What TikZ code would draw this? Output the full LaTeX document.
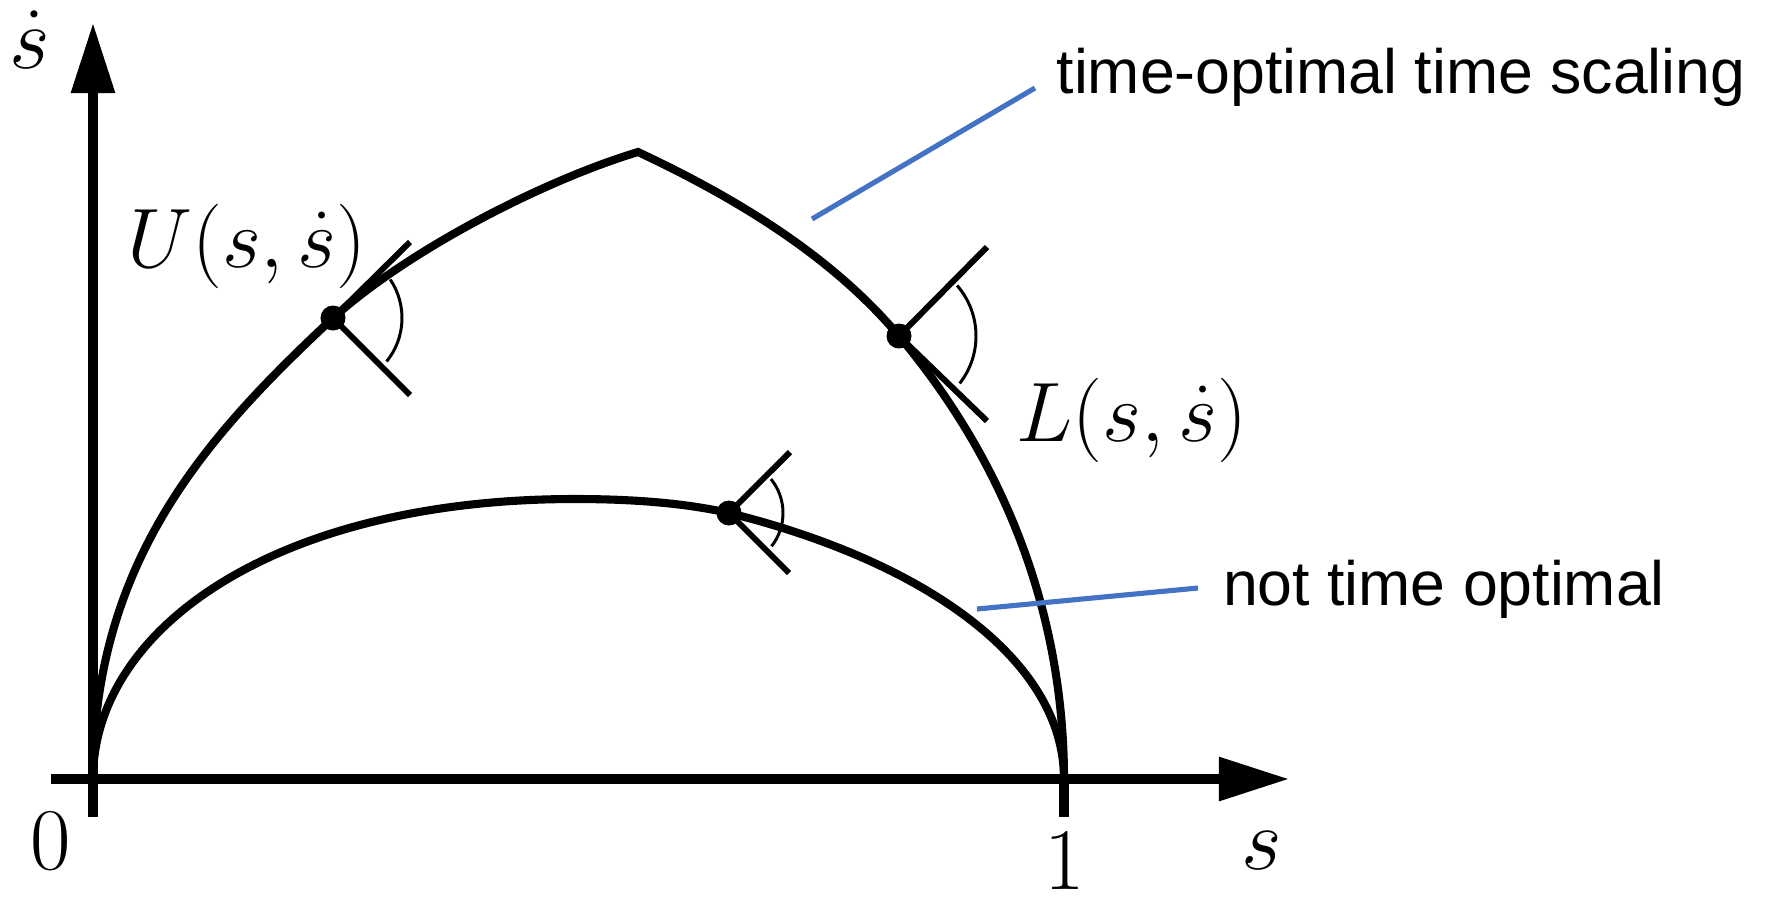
\RequirePackage{fix-cm}
\documentclass[tikz,border=0pt]{standalone}
\usepackage[no-math]{fontspec}
\newfontfamily\arialfont{Liberation Sans}
\usetikzlibrary{arrows.meta}
\definecolor{leaderblue}{HTML}{4472C4}
\tikzset{
  axisline/.style={line width=2.6pt, -{Triangle[length=0.7cm,width=0.42cm]}},
  tickline/.style={line width=2.6pt},
  curveline/.style={line width=2.3pt, line join=miter},
  coneline/.style={line width=1.7pt},
  anglearc/.style={line width=0.85pt},
  pointdot/.style={circle, fill=black, inner sep=0pt, minimum size=0.25cm},
  leader/.style={line width=1.45pt, draw=leaderblue},
  textlbl/.style={font=\arialfont\fontsize{17.8}{20}\selectfont, inner sep=0pt, anchor=base},
  mathlbl/.style={font=\fontsize{24}{28}\selectfont, inner sep=0pt, anchor=base},
  axislbl/.style={font=\fontsize{25}{29}\selectfont, inner sep=0pt, anchor=base},
}
\begin{document}
\begin{tikzpicture}[x=0.01cm, y=0.01cm]
\useasboundingbox (0,-896) rectangle (1769,0);

% axes
\coordinate (xstart) at (51,-779);
\coordinate (xend) at (1289,-779);
\coordinate (ybot) at (93,-817);
\coordinate (ytop) at (93,-23);
\coordinate (O) at (93,-779);
\coordinate (one) at (1064,-779);
\coordinate (onebot) at (1064,-817);
\coordinate (peak) at (638,-152);
\coordinate (ltop) at (575,-499);

% points
\node[pointdot] (U) at (333,-318) {};
\node[pointdot] (L) at (899,-336) {};
\node[pointdot] (N) at (729,-513) {};

% time-optimal curve
\draw[curveline] (O) .. controls (93,-559) and (209,-434) .. (U.center)
  .. controls (407,-251) and (542,-181) .. (peak)
  .. controls (734,-197) and (831,-255) .. (L.center)
  .. controls (1015,-474) and (1064,-629) .. (one);

% not time-optimal curve
\draw[curveline] (O) .. controls (93,-629) and (275,-499) .. (ltop)
  .. controls (625,-499) and (680,-502) .. (N.center)
  .. controls (923,-561) and (1064,-659) .. (one);

\draw[axisline] (xstart) -- (xend);
\draw[axisline] (ybot) -- (ytop);
\draw[tickline] (one) -- (onebot);

% cones
\coordinate (Ua) at (410,-242);
\coordinate (Ub) at (410,-395);
\coordinate (La) at (987,-247);
\coordinate (Lb) at (987,-421);
\coordinate (Na) at (790,-452);
\coordinate (Nb) at (789,-573);
\draw[coneline] (Ua) -- (U.center) -- (Ub);
\draw[coneline] (La) -- (L.center) -- (Lb);
\draw[coneline] (Na) -- (N.center) -- (Nb);
\draw[anglearc] ([shift={(34:69)}]U.center) arc[start angle=34, end angle=-39, radius=69];
\draw[anglearc] ([shift={(41:77)}]L.center) arc[start angle=41, end angle=-38, radius=77];
\draw[anglearc] ([shift={(39:54)}]N.center) arc[start angle=39, end angle=-38, radius=54];

% leader lines
\coordinate (t1a) at (812,-219);
\coordinate (t1b) at (1035,-88);
\coordinate (t2a) at (977,-609);
\coordinate (t2b) at (1198,-588);
\draw[leader] (t1a) -- (t1b);
\draw[leader] (t2a) -- (t2b);

% labels
\node[textlbl] (toptxt) at (1401,-93) {time-optimal time scaling};
\node[textlbl] (nottxt) at (1444,-605) {not time optimal};
\node[mathlbl] (Ulbl) at (247,-267) {$U(s,\dot s)$};
\node[mathlbl] (Llbl) at (1132,-441) {$L(s,\dot s)$};
\node[axislbl] (zero) at (51,-869) {$0$};
\node[axislbl] (onelbl) at (1065,-889) {$1$};
\node[axislbl] (slbl) at (1262,-869) {$s$};
\node[axislbl] (sdot) at (30,-68) {$\dot s$};
\end{tikzpicture}
\end{document}
